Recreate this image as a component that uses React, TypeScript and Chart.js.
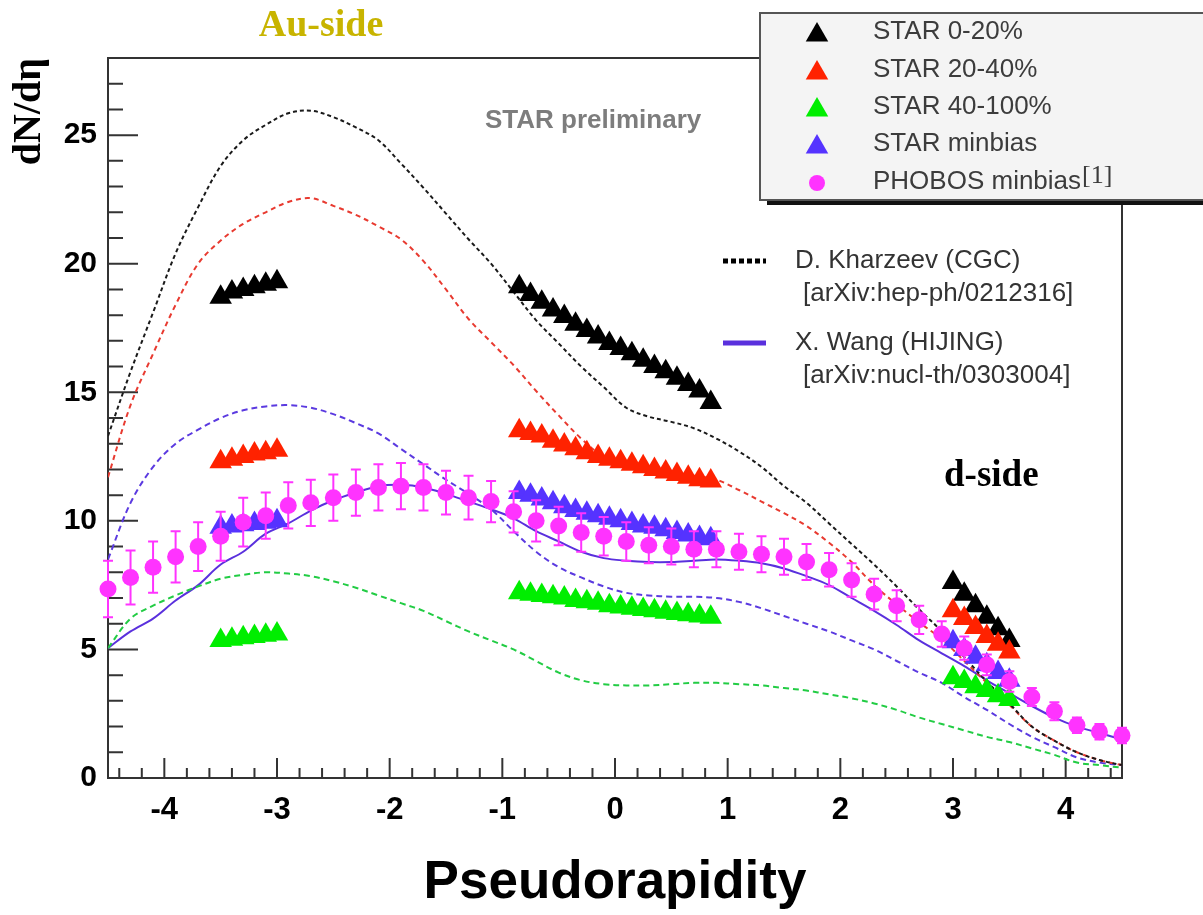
import React, { useEffect, useRef } from 'react';
import { Chart, registerables } from 'chart.js';

Chart.register(...registerables);

// ---------------- data ----------------
const X_TICKS = [-4, -3, -2, -1, 0, 1, 2, 3, 4];
const Y_TICKS = [0, 5, 10, 15, 20, 25];

// eta bins (PHOBOS points and model curves are read at these)
const ETA_BINS = [-4.5, -4.3, -4.1, -3.9, -3.7, -3.5, -3.3, -3.1, -2.9, -2.7, -2.5, -2.3, -2.1, -1.9, -1.7, -1.5,
  -1.3, -1.1, -0.9, -0.7, -0.5, -0.3, -0.1, 0.1, 0.3, 0.5, 0.7, 0.9, 1.1, 1.3, 1.5, 1.7, 1.9, 2.1, 2.3, 2.5,
  2.7, 2.9, 3.1, 3.3, 3.5, 3.7, 3.9, 4.1, 4.3, 4.5];

const PHOBOS_DNDETA = [7.35, 7.8, 8.2, 8.6, 9.0, 9.4, 9.95, 10.2, 10.6, 10.7, 10.9, 11.1, 11.3, 11.35, 11.3, 11.1,
  10.9, 10.75, 10.35, 10.0, 9.8, 9.55, 9.4, 9.2, 9.05, 9.0, 8.9, 8.9, 8.8, 8.7, 8.6, 8.4, 8.1, 7.7, 7.15, 6.7,
  6.15, 5.6, 5.05, 4.4, 3.75, 3.15, 2.6, 2.05, 1.8, 1.65];
const PHOBOS_ERR = [1.1, 1.05, 1.0, 1.0, 0.95, 0.95, 0.95, 0.9, 0.9, 0.9, 0.9, 0.9, 0.9, 0.9, 0.9, 0.85,
  0.85, 0.8, 0.8, 0.8, 0.75, 0.75, 0.75, 0.75, 0.7, 0.7, 0.7, 0.7, 0.7, 0.7, 0.7, 0.7, 0.65, 0.65, 0.6, 0.6,
  0.55, 0.5, 0.45, 0.4, 0.4, 0.35, 0.35, 0.3, 0.3, 0.3];

// Kharzeev CGC curves
const CGC_0_20 = [13.3, 15.8, 18.1, 20.4, 22.2, 23.8, 24.8, 25.4, 25.85, 25.95, 25.7, 25.3, 24.8, 23.9, 22.95, 21.95,
  20.95, 20.0, 18.9, 17.8, 16.9, 16.0, 15.2, 14.4, 14.05, 13.85, 13.6, 13.2, 12.7, 12.1, 11.35, 10.7, 9.9, 9.1, 8.3, 7.45,
  6.55, 5.7, 4.7, 3.75, 2.9, 2.0, 1.45, 1.0, 0.7, 0.5];
const CGC_20_40 = [11.7, 14.5, 16.5, 18.4, 20.0, 20.9, 21.55, 22.0, 22.4, 22.55, 22.25, 21.9, 21.45, 20.95, 20.1, 19.0,
  17.85, 16.95, 16.05, 15.05, 14.1, 13.2, 12.5, 12.2, 12.0, 11.9, 11.75, 11.6, 11.2, 10.75, 10.3, 9.8, 9.15, 8.4, 7.5, 6.75,
  6.05, 5.4, 4.55, 3.7, 2.85, 2.0, 1.45, 1.0, 0.7, 0.5];
const CGC_MINBIAS = [8.5, 10.7, 12.1, 13.0, 13.55, 14.0, 14.3, 14.45, 14.5, 14.4, 14.15, 13.8, 13.4, 12.8, 12.2, 11.6,
  11.05, 10.45, 9.6, 8.8, 8.2, 7.8, 7.45, 7.2, 7.1, 7.05, 7.05, 7.0, 6.85, 6.6, 6.3, 6.0, 5.7, 5.35, 5.0, 4.55,
  4.1, 3.7, 3.15, 2.65, 2.1, 1.6, 1.2, 0.8, 0.6, 0.5];
const CGC_40_100 = [5.05, 6.2, 6.7, 7.1, 7.45, 7.75, 7.9, 8.0, 7.95, 7.85, 7.65, 7.4, 7.1, 6.8, 6.5, 6.1,
  5.7, 5.35, 5.0, 4.55, 4.1, 3.8, 3.65, 3.6, 3.6, 3.65, 3.7, 3.7, 3.65, 3.6, 3.5, 3.4, 3.25, 3.1, 2.9, 2.65,
  2.35, 2.1, 1.85, 1.6, 1.4, 1.15, 0.9, 0.6, 0.5, 0.4];
// Wang HIJING minbias
const HIJING_MINBIAS = [5.05, 5.7, 6.2, 6.9, 7.5, 8.3, 8.8, 9.5, 9.9, 10.4, 10.8, 11.1, 11.35, 11.4, 11.3, 11.05,
  10.75, 10.45, 10.1, 9.6, 9.2, 8.8, 8.55, 8.45, 8.4, 8.4, 8.45, 8.5, 8.45, 8.35, 8.15, 7.85, 7.5, 7.0, 6.5, 5.95,
  5.35, 4.85, 4.35, 3.8, 3.3, 2.8, 2.35, 2.0, 1.75, 1.5];

// STAR measurements: Au-side FTPC, mid-rapidity TPC, d-side FTPC
const STAR_ETA_AU = [-3.5, -3.4, -3.3, -3.2, -3.1, -3.0];
const STAR_ETA_TPC = [-0.85, -0.75, -0.65, -0.55, -0.45, -0.35, -0.25, -0.15, -0.05, 0.05, 0.15, 0.25, 0.35, 0.45,
  0.55, 0.65, 0.75, 0.85];
const STAR_ETA_D = [3.0, 3.1, 3.2, 3.3, 3.4, 3.5];

const STAR_0_20_AU = [18.7, 18.9, 19.0, 19.1, 19.2, 19.3];
const STAR_0_20_TPC = [19.1, 18.8, 18.5, 18.2, 17.95, 17.65, 17.4, 17.15, 16.9, 16.7, 16.5, 16.25, 16.0, 15.8, 15.55,
  15.3, 15.05, 14.6];
const STAR_0_20_D = [7.6, 7.15, 6.7, 6.25, 5.8, 5.35];

const STAR_20_40_AU = [12.3, 12.4, 12.5, 12.6, 12.65, 12.75];
const STAR_20_40_TPC = [13.5, 13.4, 13.3, 13.1, 12.95, 12.8, 12.65, 12.5, 12.4, 12.3, 12.2, 12.1, 12.0, 11.9, 11.8,
  11.7, 11.6, 11.55];
const STAR_20_40_D = [6.5, 6.2, 5.85, 5.5, 5.2, 4.9];

const STAR_40_100_AU = [5.35, 5.4, 5.45, 5.5, 5.55, 5.6];
const STAR_40_100_TPC = [7.2, 7.15, 7.1, 7.05, 7.0, 6.9, 6.85, 6.8, 6.7, 6.65, 6.6, 6.55, 6.5, 6.45, 6.4, 6.35,
  6.3, 6.25];
const STAR_40_100_D = [3.9, 3.75, 3.55, 3.4, 3.2, 3.05];

const STAR_MB_AU = [9.75, 9.8, 9.85, 9.9, 9.95, 10.0];
const STAR_MB_TPC = [11.1, 11.0, 10.85, 10.7, 10.55, 10.4, 10.3, 10.2, 10.1, 10.0, 9.9, 9.8, 9.75, 9.65, 9.55,
  9.45, 9.35, 9.3];
const STAR_MB_D = [5.3, 5.0, 4.7, 4.4, 4.1, 3.8];

// ---------------- helpers ----------------
const pts = (xs: number[], ys: number[]) => xs.map((x, i) => ({ x, y: ys[i] }));
const star = (au: number[], tpc: number[], d: number[]) => [
  ...pts(STAR_ETA_AU, au), ...pts(STAR_ETA_TPC, tpc), ...pts(STAR_ETA_D, d),
];

const C_BLACK = '#000000';
const C_RED = '#ff2200';
const C_GREEN = '#00ee00';
const C_PURPLE = '#5533ff';
const C_PINK = '#ff33ff';
const SANS = '"Liberation Sans", Arial, Helvetica, sans-serif';
const SERIF = '"Liberation Serif", "Times New Roman", serif';

function triPath(ctx: CanvasRenderingContext2D, x: number, y: number, r: number) {
  const a = (2 * Math.PI) / 3;
  ctx.beginPath();
  ctx.moveTo(x, y - r);
  ctx.lineTo(x + Math.sin(a) * r, y - Math.cos(a) * r);
  ctx.lineTo(x + Math.sin(2 * a) * r, y - Math.cos(2 * a) * r);
  ctx.closePath();
}

const frameTicks = {
  id: 'frameTicks',
  beforeDatasetsDraw(chart: any) {
    const { ctx, chartArea: a, scales } = chart;
    const x = scales.x, y = scales.y;
    ctx.save();
    ctx.strokeStyle = '#333';
    ctx.lineWidth = 2;
    ctx.strokeRect(a.left, a.top, a.right - a.left, a.bottom - a.top);
    ctx.beginPath();
    for (let i = 1; i <= 27; i++) {
      const py = y.getPixelForValue(i);
      const len = i % 5 === 0 ? 30 : 15;
      ctx.moveTo(a.left, py);
      ctx.lineTo(a.left + len, py);
    }
    for (let i = -22; i <= 22; i++) {
      const px = x.getPixelForValue(i / 5);
      const len = i % 5 === 0 ? 20 : 10;
      ctx.moveTo(px, a.bottom);
      ctx.lineTo(px, a.bottom - len);
    }
    ctx.stroke();
    ctx.restore();
  },
};

const errorBars = {
  id: 'errorBars',
  beforeDatasetDraw(chart: any, args: any) {
    const ds = chart.data.datasets[args.index];
    if (!ds.errors) return;
    const { ctx, scales } = chart;
    ctx.save();
    ctx.strokeStyle = ds.backgroundColor;
    ctx.lineWidth = 2;
    ctx.beginPath();
    ds.data.forEach((p: any, i: number) => {
      const e = ds.errors[i];
      const px = scales.x.getPixelForValue(p.x);
      const top = scales.y.getPixelForValue(p.y + e);
      const bot = scales.y.getPixelForValue(p.y - e);
      ctx.moveTo(px, top); ctx.lineTo(px, bot);
      ctx.moveTo(px - 5, top); ctx.lineTo(px + 5, top);
      ctx.moveTo(px - 5, bot); ctx.lineTo(px + 5, bot);
    });
    ctx.stroke();
    ctx.restore();
  },
};

const annotations = {
  id: 'annotations',
  afterDraw(chart: any) {
    const { ctx } = chart;
    const ds = chart.data.datasets;
    ctx.save();
    // free texts
    ctx.textBaseline = 'middle';
    ctx.textAlign = 'center';
    ctx.fillStyle = '#c8b400';
    ctx.font = `bold 38px ${SERIF}`;
    ctx.fillText('Au-side', 321, 26);
    ctx.textAlign = 'left';
    ctx.fillStyle = '#7d7d7d';
    ctx.font = `bold 26px ${SANS}`;
    ctx.fillText('STAR preliminary', 485, 121);
    ctx.fillStyle = '#000';
    ctx.font = `bold 37px ${SERIF}`;
    ctx.fillText('d-side', 944, 476);

    // data legend box
    ctx.fillStyle = '#111';
    ctx.fillRect(767, 199, 450, 6);
    ctx.fillStyle = '#f4f4f4';
    ctx.fillRect(760, 13, 460, 187);
    ctx.strokeStyle = '#555';
    ctx.lineWidth = 2;
    ctx.strokeRect(760, 13, 460, 187);
    const rows = [32, 70, 107, 144, 182];
    const entries = [ds[0], ds[1], ds[2], ds[3], ds[4]];
    entries.forEach((d: any, i: number) => {
      const yy = rows[i];
      ctx.fillStyle = d.backgroundColor;
      if (d.pointStyle === 'triangle') {
        triPath(ctx, 817, yy + 3, 13);
        ctx.fill();
      } else {
        ctx.beginPath();
        ctx.arc(817, yy + 1, 8, 0, Math.PI * 2);
        ctx.fill();
      }
      ctx.fillStyle = '#3c3c3c';
      ctx.font = `26px ${SANS}`;
      ctx.fillText(d.label, 873, yy);
      if (d.note) {
        const w = ctx.measureText(d.label).width;
        ctx.font = `26px ${SERIF}`;
        ctx.fillText(d.note, 873 + w + 1, yy - 6);
      }
    });

    // model legend
    const models = [ds[5], ds[9]];
    const my = [261, 343];
    models.forEach((d: any, i: number) => {
      ctx.strokeStyle = i === 0 ? '#000' : d.borderColor;
      ctx.lineWidth = 5;
      ctx.setLineDash(i === 0 ? [5, 3] : []);
      ctx.beginPath();
      ctx.moveTo(723, my[i]);
      ctx.lineTo(766, my[i]);
      ctx.stroke();
      ctx.setLineDash([]);
      ctx.fillStyle = '#333';
      ctx.font = `26px ${SANS}`;
      ctx.fillText(d.legendText, 795, my[i]);
      ctx.fillText(d.legendRef, 803, my[i] + 33);
    });
    ctx.restore();
  },
};

export default function App() {
  const ref = useRef<HTMLCanvasElement>(null);

  useEffect(() => {
    const curve = (label: string, ys: number[], color: string, dash: number[], width = 2, extra: any = {}) => ({
      type: 'scatter',
      label,
      data: pts(ETA_BINS, ys),
      showLine: true,
      borderColor: color,
      backgroundColor: color,
      borderWidth: width,
      borderDash: dash,
      pointRadius: 0,
      tension: 0.35,
      order: 10,
      ...extra,
    });
    const tri = (label: string, data: any[], color: string, order: number) => ({
      type: 'scatter',
      label,
      data,
      pointStyle: 'triangle',
      pointRadius: 13,
      backgroundColor: color,
      borderColor: color,
      borderWidth: 0,
      order,
      clip: false,
    });

    const chart = new Chart(ref.current!, {
      type: 'scatter',
      data: {
        datasets: [
          tri('STAR 0-20%', star(STAR_0_20_AU, STAR_0_20_TPC, STAR_0_20_D), C_BLACK, 5),
          tri('STAR 20-40%', star(STAR_20_40_AU, STAR_20_40_TPC, STAR_20_40_D), C_RED, 4),
          tri('STAR 40-100%', star(STAR_40_100_AU, STAR_40_100_TPC, STAR_40_100_D), C_GREEN, 3),
          tri('STAR minbias', star(STAR_MB_AU, STAR_MB_TPC, STAR_MB_D), C_PURPLE, 2),
          {
            type: 'scatter',
            label: 'PHOBOS minbias',
            note: '[1]',
            data: pts(ETA_BINS, PHOBOS_DNDETA),
            errors: PHOBOS_ERR,
            pointStyle: 'circle',
            pointRadius: 8.5,
            backgroundColor: C_PINK,
            borderColor: C_PINK,
            borderWidth: 0,
            order: 0,
            clip: false,
          },
          curve('CGC 0-20%', CGC_0_20, '#1a1a1a', [4, 3], 2, {
            legendText: 'D. Kharzeev (CGC)', legendRef: '[arXiv:hep-ph/0212316]',
          }),
          curve('CGC 20-40%', CGC_20_40, '#e83a30', [5, 4]),
          curve('CGC 40-100%', CGC_40_100, '#22cc44', [6, 4]),
          curve('CGC minbias', CGC_MINBIAS, '#5b3ae0', [6, 4]),
          curve('HIJING minbias', HIJING_MINBIAS, '#5a30dd', [], 2, {
            legendText: 'X. Wang (HIJING)', legendRef: '[arXiv:nucl-th/0303004]',
          }),
        ] as any,
      },
      options: {
        animation: false,
        responsive: false,
        events: [],
        layout: { padding: { top: 58, right: 81, left: 0, bottom: 0 } },
        plugins: { legend: { display: false }, tooltip: { enabled: false } },
        scales: {
          x: {
            type: 'linear',
            min: -4.5,
            max: 4.5,
            afterBuildTicks: (s: any) => { s.ticks = X_TICKS.map((v) => ({ value: v })); },
            afterFit: (s: any) => { s.height = 137; },
            grid: { display: false, drawTicks: false },
            border: { display: false },
            ticks: {
              padding: 14,
              color: '#000',
              font: { family: SANS, size: 31, weight: 'bold' },
              callback: (v: any) => String(v),
            },
            title: {
              display: true,
              text: 'Pseudorapidity',
              color: '#000',
              font: { family: SANS, size: 53, weight: 'bold' },
              padding: { top: 0, bottom: 0 },
            },
          },
          y: {
            type: 'linear',
            min: 0,
            max: 28,
            afterBuildTicks: (s: any) => { s.ticks = Y_TICKS.map((v) => ({ value: v })); },
            afterFit: (s: any) => { s.width = 108; },
            grid: { display: false, drawTicks: false },
            border: { display: false },
            ticks: {
              padding: 11,
              color: '#000',
              font: { family: SANS, size: 30, weight: 'bold' },
              callback: (v: any) => String(v),
            },
            title: {
              display: true,
              text: 'dN/dη',
              align: 'end',
              color: '#000',
              font: { family: SERIF, size: 40, weight: 'bold' },
              padding: { top: 6, bottom: 0 },
            },
          },
        },
      } as any,
      plugins: [frameTicks, errorBars, annotations],
    });
    return () => chart.destroy();
  }, []);

  return (
    <div style={{ position: 'absolute', left: 0, top: 0, width: 1203, height: 915, background: '#fff' }}>
      <canvas ref={ref} width={1203} height={915} style={{ display: 'block', width: 1203, height: 915 }} />
    </div>
  );
}
